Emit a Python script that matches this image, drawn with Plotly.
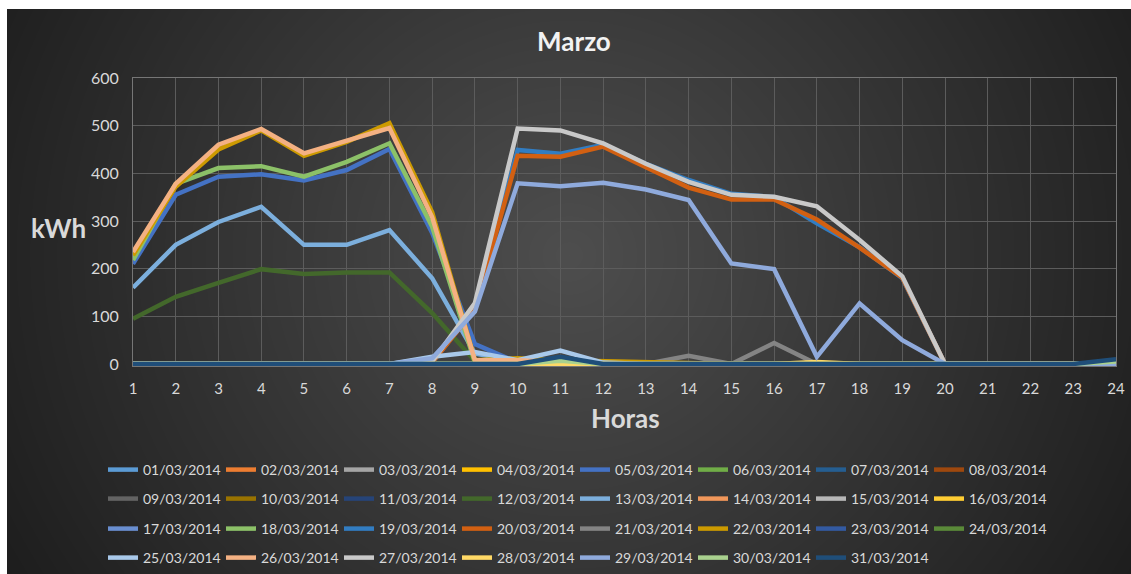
import base64
import struct
import zlib

import numpy as np
import plotly.graph_objects as go

# ---------------------------------------------------------------- data
hours = list(range(1, 25))
days = [f"{d:02d}/03/2014" for d in range(1, 32)]

# hourly energy (kWh) for the days with readings; every other day is zero
kwh_05 = [210, 355, 393, 398, 385, 407, 451, 275, 42, 3, 0, 0, 0, 0, 0, 0, 0, 0, 0, 0, 0, 0, 0, 0]
kwh_12 = [95, 141, 170, 199, 189, 192, 192, 107, 6, 0, 0, 0, 0, 0, 0, 0, 0, 0, 0, 0, 0, 0, 0, 0]
kwh_13 = [160, 250, 298, 330, 250, 250, 281, 180, 22, 5, 0, 0, 0, 0, 0, 0, 0, 0, 0, 0, 0, 0, 0, 0]
kwh_18 = [218, 378, 411, 415, 393, 424, 463, 288, 3, 0, 0, 0, 0, 0, 0, 0, 0, 0, 0, 0, 0, 0, 0, 0]
kwh_19 = [0, 0, 0, 0, 0, 0, 0, 3, 118, 449, 441, 460, 420, 386, 357, 350, 295, 245, 180, 0, 0, 0, 0, 0]
kwh_20 = [0, 0, 0, 0, 0, 0, 0, 3, 115, 437, 435, 456, 413, 370, 345, 345, 303, 244, 181, 0, 0, 0, 0, 0]
kwh_21 = [0, 0, 0, 0, 0, 0, 0, 0, 0, 0, 0, 0, 0, 17, 0, 44, 0, 0, 0, 0, 0, 0, 0, 0]
kwh_22 = [228, 372, 450, 490, 437, 466, 505, 318, 8, 12, 8, 6, 3, 0, 0, 0, 0, 0, 0, 0, 0, 0, 0, 0]
kwh_25 = [0, 0, 0, 0, 0, 0, 0, 15, 25, 8, 28, 3, 0, 0, 0, 0, 0, 0, 0, 0, 0, 0, 0, 0]
kwh_26 = [235, 378, 460, 493, 442, 468, 495, 308, 8, 8, 3, 0, 0, 0, 0, 0, 0, 0, 0, 0, 0, 0, 0, 0]
kwh_27 = [0, 0, 0, 0, 0, 0, 0, 5, 128, 494, 490, 463, 420, 382, 355, 351, 331, 260, 184, 0, 0, 0, 0, 0]
kwh_28 = [0, 0, 0, 0, 0, 0, 0, 0, 0, 0, 0, 0, 0, 0, 0, 0, 4, 0, 0, 0, 0, 0, 0, 0]
kwh_29 = [0, 0, 0, 0, 0, 0, 0, 12, 110, 379, 373, 380, 366, 344, 211, 199, 15, 127, 50, 0, 0, 0, 0, 0]
kwh_30 = [0, 0, 0, 0, 0, 0, 0, 0, 0, 0, 7, 0, 0, 0, 0, 0, 0, 0, 0, 0, 0, 0, 0, 5]
kwh_31 = [0, 0, 0, 0, 0, 0, 0, 0, 0, 0, 15, 0, 0, 0, 0, 0, 0, 0, 0, 0, 0, 0, 0, 10]

zero_day = [0] * 24
readings = {5: kwh_05, 12: kwh_12, 13: kwh_13, 18: kwh_18, 19: kwh_19, 20: kwh_20,
            21: kwh_21, 22: kwh_22, 25: kwh_25, 26: kwh_26, 27: kwh_27, 28: kwh_28,
            29: kwh_29, 30: kwh_30, 31: kwh_31}

y_ticks = [0, 100, 200, 300, 400, 500, 600]

# Office-style series palette
colors = ["#5B9BD5", "#ED7D31", "#A5A5A5", "#FFC000", "#4472C4", "#70AD47",
          "#255E91", "#9E480E", "#636363", "#997300", "#264478", "#43682B",
          "#7CAFDD", "#F1975A", "#B7B7B7", "#FFCD33", "#698ED0", "#8CC168",
          "#327DC2", "#D26012", "#848484", "#CC9A00", "#335AA1", "#5A8A39",
          "#A9C9EA", "#F4B183", "#C9C9C9", "#FFD966", "#8FAADC", "#A9D18E",
          "#1F4E79"]

# ---------------------------------------------------------------- geometry (px)
FIG_W, FIG_H = 1131, 574
L, R, T, B = 133, 1116, 78, 366
PW, PH = R - L, B - T


def px_x(x):
    return (x - L) / PW


def px_y(y):
    return (B - y) / PH


# ---------------------------------------------------------------- background
def png_gray(arr):
    h, w = arr.shape
    raw = b"".join(b"\x00" + arr[i].tobytes() for i in range(h))

    def chunk(tag, data):
        body = tag + data
        return struct.pack(">I", len(data)) + body + struct.pack(">I", zlib.crc32(body) & 0xFFFFFFFF)

    ihdr = struct.pack(">IIBBBBB", w, h, 8, 0, 0, 0, 0)
    return (b"\x89PNG\r\n\x1a\n" + chunk(b"IHDR", ihdr)
            + chunk(b"IDAT", zlib.compress(raw, 9)) + chunk(b"IEND", b""))


yy, xx = np.mgrid[0:FIG_H, 0:FIG_W]
rad = np.sqrt(((xx - 569) / 620.0) ** 2 + ((yy - 255) / 600.0) ** 2)
shade = np.clip(78 - 46 * rad, 28, 80)
shade[(xx < 7) | (yy < 9)] = 255
bg_uri = "data:image/png;base64," + base64.b64encode(png_gray(shade.astype(np.uint8))).decode()

# ---------------------------------------------------------------- traces
fig = go.Figure()
legend_ids = ["legend", "legend2", "legend3", "legend4"]
for i, name in enumerate(days):
    values = readings.get(i + 1, zero_day)
    fig.add_trace(go.Scatter(
        x=hours, y=values, name=name, mode="lines",
        line=dict(color=colors[i], width=4.5),
        legend=legend_ids[i // 8],
        hoverinfo="x+y+name",
    ))

FONT = "Lato"
TXT = "#d9d9d9"

legend_rows_px = [470, 499, 529, 558]
legend_common = dict(
    orientation="h", xanchor="left", yanchor="middle",
    x=px_x(103), entrywidth=73, entrywidthmode="pixels",
    font=dict(family=FONT, size=14, color=TXT),
    bgcolor="rgba(0,0,0,0)", borderwidth=0, tracegroupgap=0,
    traceorder="normal",
)
legends = {lid: dict(legend_common, y=px_y(ypx)) for lid, ypx in zip(legend_ids, legend_rows_px)}

fig.update_layout(
    width=FIG_W, height=FIG_H,
    margin=dict(l=L, r=FIG_W - R, t=T, b=FIG_H - B, autoexpand=False),
    paper_bgcolor="white", plot_bgcolor="rgba(0,0,0,0)",
    font=dict(family=FONT, color=TXT),
    showlegend=True,
    images=[dict(source=bg_uri, xref="paper", yref="paper",
                 x=px_x(0), y=px_y(0), sizex=FIG_W / PW, sizey=FIG_H / PH,
                 xanchor="left", yanchor="top", sizing="stretch", layer="below")],
    xaxis=dict(
        range=[1, 24], tickvals=hours, ticktext=[str(h) for h in hours],
        showgrid=True, gridcolor="#5c5c5c", gridwidth=1,
        showline=True, mirror=True, linecolor="#767676", linewidth=1,
        zeroline=False, ticks="outside", ticklen=9, tickcolor="rgba(0,0,0,0)",
        tickfont=dict(family=FONT, size=15, color=TXT),
    ),
    yaxis=dict(
        range=[-4.2, 600], tickvals=y_ticks, ticktext=[str(v) for v in y_ticks],
        showgrid=True, gridcolor="#5c5c5c", gridwidth=1,
        showline=True, mirror=True, linecolor="#767676", linewidth=1,
        zeroline=False, ticks="outside", ticklen=10, tickcolor="rgba(0,0,0,0)",
        tickfont=dict(family=FONT, size=16, color=TXT),
    ),
    annotations=[
        dict(text="Marzo", xref="paper", yref="paper", x=px_x(574), y=px_y(41),
             showarrow=False, xanchor="center", yanchor="middle",
             font=dict(family=FONT, size=26, color="#f2f2f2", weight="bold")),
        dict(text="kWh", xref="paper", yref="paper", x=px_x(58), y=px_y(228),
             showarrow=False, xanchor="center", yanchor="middle",
             font=dict(family=FONT, size=26, color=TXT, weight="bold")),
        dict(text="Horas", xref="paper", yref="paper", x=px_x(625), y=px_y(418),
             showarrow=False, xanchor="center", yanchor="middle",
             font=dict(family=FONT, size=26, color=TXT, weight="bold")),
    ],
    **legends,
)

fig.write_html("out.html")
